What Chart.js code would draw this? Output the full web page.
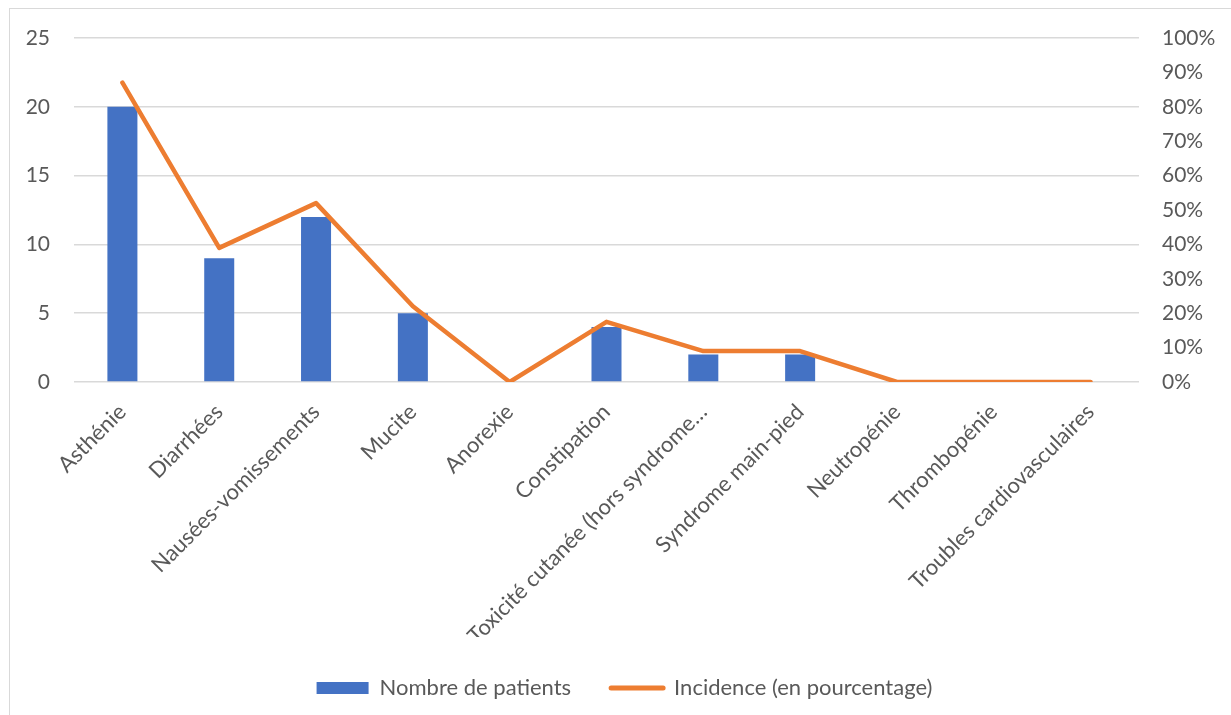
<!DOCTYPE html>
<html>
<head>
<meta charset="utf-8">
<script src="https://cdn.jsdelivr.net/npm/chart.js@4/dist/chart.umd.min.js"></script>
<style>
    html, body { margin: 0; padding: 0; background: #fff; }
    #wrap { position: relative; width: 1231px; height: 715px; overflow: hidden; }
    #frame { position: absolute; left: 9px; top: 8px; width: 1300px; height: 800px; border: 1px solid #d9d9d9; }
    #salesChart { position: absolute; left: 0; top: 0; }
</style>
</head>
<body>
<div id="wrap">
    <div id="frame"></div>
    <canvas id="salesChart" width="1231" height="715"></canvas>
</div>
<script>
// Données du graphique
const categories = ['Asthénie', 'Diarrhées', 'Nausées-vomissements', 'Mucite', 'Anorexie', 'Constipation',
    'Toxicité cutanée (hors syndrome…', 'Syndrome main-pied', 'Neutropénie', 'Thrombopénie', 'Troubles cardiovasculaires'];
const nombrePatients = [20, 9, 12, 5, 0, 4, 2, 2, 0, 0, 0];
const incidence = [87, 39, 52, 22, 0, 17.5, 9, 9, 0, 0, 0];
const leftTicks = [0, 5, 10, 15, 20, 25];
const rightTicks = [0, 10, 20, 30, 40, 50, 60, 70, 80, 90, 100];

const textColor = '#595959';
const gridColor = '#d9d9d9';
const fontFamily = 'Lato, "Open Sans", sans-serif';

Chart.defaults.font.family = fontFamily;
Chart.defaults.font.size = 21;
Chart.defaults.color = textColor;

const ctx = document.getElementById('salesChart').getContext('2d');
new Chart(ctx, {
    type: 'bar',
    data: {
        labels: categories,
        datasets: [
            {
                type: 'line',
                label: 'Incidence (en pourcentage)',
                data: incidence,
                yAxisID: 'y1',
                borderColor: '#ED7D31',
                backgroundColor: '#ED7D31',
                borderWidth: 4.5,
                borderCapStyle: 'round',
                borderJoinStyle: 'round',
                pointRadius: 0,
                tension: 0,
                order: 1
            },
            {
                label: 'Nombre de patients',
                data: nombrePatients,
                yAxisID: 'y',
                backgroundColor: '#4472C4',
                borderWidth: 0,
                categoryPercentage: 1,
                barPercentage: 0.31,
                order: 2
            }
        ]
    },
    options: {
        responsive: false,
        animation: false,
        layout: { padding: { top: 38, left: 18, right: 0, bottom: 6 } },
        plugins: {
            tooltip: { enabled: false },
            legend: {
                position: 'bottom',
                reverse: true,
                labels: {
                    usePointStyle: true,
                    pointStyleWidth: 52,
                    boxHeight: 12,
                    padding: 40,
                    color: textColor,
                    font: { size: 22 },
                    generateLabels(chart) {
                        return chart.data.datasets.map((ds, i) => ({
                            text: ds.label,
                            fillStyle: ds.backgroundColor,
                            strokeStyle: ds.type === 'line' ? ds.borderColor : ds.backgroundColor,
                            lineWidth: ds.type === 'line' ? 5 : 0,
                            lineCap: 'round',
                            pointStyle: ds.type === 'line' ? 'line' : 'rect',
                            fontColor: textColor,
                            hidden: false,
                            datasetIndex: i
                        }));
                    }
                }
            }
        },
        scales: {
            x: {
                grid: { display: false },
                border: { display: false },
                ticks: { maxRotation: 45, minRotation: 45, autoSkip: false, padding: 9, font: { size: 22 } },
                afterFit(scale) { scale.height = 255; }
            },
            y: {
                position: 'left',
                min: 0,
                max: 25,
                afterBuildTicks(scale) { scale.ticks = leftTicks.map(v => ({ value: v })); },
                grid: { color: gridColor, lineWidth: 1.5, drawTicks: false },
                border: { display: false },
                ticks: { padding: 24 },
                afterFit(scale) { scale.width = 56; }
            },
            y1: {
                position: 'right',
                min: 0,
                max: 100,
                afterBuildTicks(scale) { scale.ticks = rightTicks.map(v => ({ value: v })); },
                grid: { display: false, drawTicks: false },
                border: { display: false },
                ticks: { padding: 23, callback: v => v + '%' },
                afterFit(scale) { scale.width = 92; }
            }
        }
    }
});
</script>
</body>
</html>
